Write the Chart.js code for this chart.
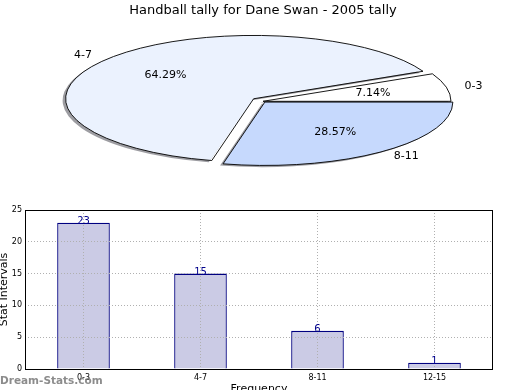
<!DOCTYPE html>
<html>
<head>
<meta charset="utf-8">
<script src="https://cdn.jsdelivr.net/npm/chart.js@4"></script>
<style>
  body { margin: 0; width: 520px; height: 390px; overflow: hidden; background: #fff; position: relative; }
  canvas { position: absolute; left: 0; top: 0; }
</style>
</head>
<body>
<canvas id="bar-chart" width="520" height="400" style="width:520px;height:400px"></canvas>
<canvas id="pie-chart" width="520" height="184" style="width:520px;height:184px"></canvas>
<script>
const pieLabels = ['0-3', '4-7', '8-11']
const pieValues = [1, 9, 4]
const barLabels = ['0-3', '4-7', '8-11', '12-15']
const barValues = [23, 15, 6, 1]
const yTicks = [0, 5, 10, 15, 20, 25]

Chart.defaults.font.family = '"DejaVu Sans", sans-serif'
Chart.defaults.color = '#000'

// pie is drawn as a flattened disc (matplotlib look)
const K = 0.337

function squash(ctx, cx, cy) {
  ctx.translate(cx, cy)
  ctx.scale(1, -K)
  ctx.translate(-cx, -cy)
}

function slicePath(ctx, a) {
  const mid = (a.startAngle + a.endAngle) / 2
  const off = a.options.offset / 4
  const x = a.x + Math.cos(mid) * off
  const y = a.y + Math.sin(mid) * off
  ctx.beginPath()
  ctx.moveTo(x, y)
  ctx.arc(x, y, a.fullR, a.startAngle, a.endAngle)
  ctx.closePath()
}

const pieLook = {
  id: 'pieLook',
  beforeDatasetsDraw(chart) {
    const ctx = chart.ctx
    const arcs = chart.getDatasetMeta(0).data
    const cx = arcs[0].x
    const cy = arcs[0].y
    arcs.forEach((a) => {
      a.fullR = a.outerRadius
    })
    // shadow under the slices
    ctx.save()
    squash(ctx, cx, cy)
    ctx.translate(-3, -5)
    ctx.fillStyle = 'rgba(60,60,70,0.5)'
    arcs.forEach((a) => {
      slicePath(ctx, a)
      ctx.fill()
    })
    ctx.restore()
    // chart.js grows exploded slices, undo that
    arcs.forEach((a) => {
      const fix = 1 - Math.sin(Math.min(Math.PI, a.circumference))
      a.outerRadius = a.fullR - (a.options.offset / 4) * fix
    })
    ctx.save()
    squash(ctx, cx, cy)
  },
  afterDatasetsDraw(chart) {
    const ctx = chart.ctx
    ctx.restore()
    const arcs = chart.getDatasetMeta(0).data
    const cx = arcs[0].x
    const cy = arcs[0].y
    arcs.forEach((a) => {
      a.outerRadius = a.fullR
    })
    ctx.save()
    ctx.strokeStyle = '#000'
    ctx.lineWidth = 0.9
    arcs.forEach((a) => {
      ctx.save()
      squash(ctx, cx, cy)
      slicePath(ctx, a)
      ctx.restore()
      ctx.stroke()
    })

    const total = pieValues.reduce((s, v) => s + v, 0)
    ctx.font = '11px "DejaVu Sans"'
    ctx.fillStyle = '#000'
    ctx.textBaseline = 'middle'
    arcs.forEach((a, i) => {
      const mid = (a.startAngle + a.endAngle) / 2
      const off = a.options.offset / 4
      const at = (f) => {
        const d = off + f * a.fullR
        return [a.x + Math.cos(mid) * d, cy - K * Math.sin(mid) * d]
      }
      const lab = at(1.1)
      ctx.textAlign = Math.cos(mid) < 0 ? 'right' : 'left'
      ctx.fillText(pieLabels[i], lab[0], lab[1])
      const pct = at(0.6)
      ctx.textAlign = 'center'
      ctx.fillText(((pieValues[i] / total) * 100).toFixed(2) + '%', pct[0], pct[1])
    })
    ctx.restore()
  },
}

new Chart(document.getElementById('pie-chart'), {
  type: 'pie',
  data: {
    labels: pieLabels,
    datasets: [
      {
        data: pieValues,
        backgroundColor: ['#ffffff', '#ebf2fe', '#c6d9fd'],
        borderWidth: 0,
        offset: [0, 48, 12],
        clip: false,
      },
    ],
  },
  options: {
    responsive: false,
    animation: false,
    rotation: 90,
    radius: 188,
    layout: { padding: { left: 6 } },
    plugins: {
      legend: { display: false },
      tooltip: { enabled: false },
      title: {
        display: true,
        text: 'Handball tally for Dane Swan - 2005 tally',
        font: { size: 13, weight: 'normal' },
        color: '#000',
        padding: { top: 3, bottom: 0 },
      },
    },
  },
  plugins: [pieLook],
})

const barExtras = {
  id: 'barExtras',
  afterDraw(chart) {
    const ctx = chart.ctx
    const a = chart.chartArea
    ctx.save()
    ctx.strokeStyle = '#000'
    ctx.lineWidth = 1
    ctx.strokeRect(a.left + 0.5, a.top + 0.5, a.right - a.left - 1, a.bottom - a.top)

    ctx.font = '10px "DejaVu Sans"'
    ctx.fillStyle = '#00008b'
    ctx.textAlign = 'center'
    ctx.textBaseline = 'alphabetic'
    chart.getDatasetMeta(0).data.forEach((b, i) => {
      ctx.fillText(String(barValues[i]), b.x, b.y + 1)
    })

    ctx.font = 'bold 10.5px "DejaVu Sans"'
    ctx.fillStyle = 'rgba(120,120,120,0.85)'
    ctx.textAlign = 'left'
    ctx.fillText('Dream-Stats.com', 0, 384)
    ctx.restore()
  },
}

new Chart(document.getElementById('bar-chart'), {
  type: 'bar',
  data: {
    labels: barLabels,
    datasets: [
      {
        data: barValues,
        backgroundColor: '#cbcbe5',
        borderColor: '#000080',
        borderWidth: 1.3,
        barPercentage: 0.45,
        categoryPercentage: 1,
      },
    ],
  },
  options: {
    responsive: false,
    animation: false,
    layout: { padding: { top: 210, right: 27, left: 0, bottom: 0 } },
    plugins: {
      legend: { display: false },
      tooltip: { enabled: false },
    },
    scales: {
      x: {
        offset: true,
        grid: { offset: false, color: '#b0b0b0', z: 1, drawTicks: false },
        border: { display: false, dash: [1, 2] },
        ticks: { font: { size: 8 }, color: '#000', padding: 4, maxRotation: 0 },
        title: {
          display: true,
          text: 'Frequency',
          font: { size: 11 },
          color: '#000',
          padding: { top: 0, bottom: 4 },
        },
        afterFit(s) {
          s.height = 31
        },
      },
      y: {
        min: 0,
        max: 25,
        afterBuildTicks(s) {
          s.ticks = yTicks.map((v) => ({ value: v }))
        },
        grid: { color: '#b0b0b0', z: 1, drawTicks: false },
        border: { display: false, dash: [1, 2] },
        ticks: { font: { size: 8 }, color: '#000', padding: 3 },
        title: {
          display: true,
          text: 'Stat Intervals',
          font: { size: 11, lineHeight: 0.8 },
          color: '#000',
          padding: { top: 0, bottom: 0 },
        },
        afterFit(s) {
          s.width = 25
        },
      },
    },
  },
  plugins: [barExtras],
})
</script>
</body>
</html>
